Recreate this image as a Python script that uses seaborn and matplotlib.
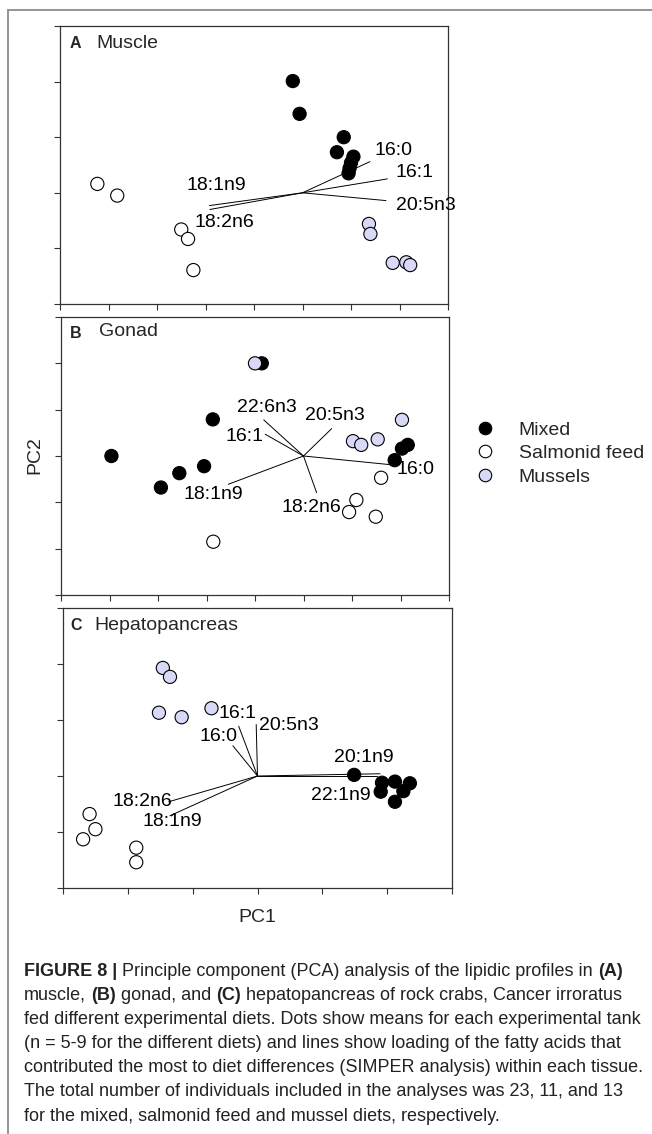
import numpy as np
import pandas as pd
import matplotlib
matplotlib.use("Agg")
import matplotlib.pyplot as plt
from matplotlib.lines import Line2D
import seaborn as sns

# ---------------- data ----------------
diets = ["Mixed", "Salmonid feed", "Mussels"]
diet_colors = ["#000000", "#ffffff", "#d8d8f7"]

# Panel A - Muscle
A_mixed_x = [-0.20, -0.06, 0.85, 0.71, 1.05, 1.00, 0.97, 0.95]
A_mixed_y = [2.01, 1.42, 1.00, 0.73, 0.65, 0.54, 0.44, 0.35]
A_salm_x = [-4.23, -3.82, -2.50, -2.36, -2.25]
A_salm_y = [0.16, -0.05, -0.66, -0.83, -1.39]
A_mus_x = [1.37, 1.40, 1.86, 2.14, 2.22]
A_mus_y = [-0.56, -0.74, -1.26, -1.25, -1.30]
A_fa = ["16:0", "16:1", "20:5n3", "18:1n9", "18:2n6"]
A_fa_dx = [1.39, 1.75, 1.72, -1.92, -1.91]
A_fa_dy = [0.56, 0.25, -0.14, -0.23, -0.30]
A_lab_x = [1.48, 1.92, 1.93, -2.40, -2.23]
A_lab_y = [0.76, 0.37, -0.22, 0.13, -0.54]

# Panel B - Gonad
B_mixed_x = [-0.86, -1.87, -3.96, -2.05, -2.56, -2.94, 2.15, 2.03, 1.88]
B_mixed_y = [2.00, 0.79, 0.00, -0.22, -0.37, -0.68, 0.24, 0.16, -0.09]
B_salm_x = [-1.86, 1.60, 1.09, 0.94, 1.49]
B_salm_y = [-1.85, -0.47, -0.95, -1.21, -1.31]
B_mus_x = [-1.00, 2.03, 1.02, 1.19, 1.53]
B_mus_y = [2.00, 0.78, 0.32, 0.24, 0.36]
B_fa = ["22:6n3", "16:1", "20:5n3", "16:0", "18:1n9", "18:2n6"]
B_fa_dx = [-0.82, -0.79, 0.58, 1.82, -1.55, 0.27]
B_fa_dy = [0.78, 0.47, 0.59, -0.19, -0.61, -0.79]
B_lab_x = [-1.37, -1.61, 0.03, 1.92, -2.47, -0.46]
B_lab_y = [1.04, 0.43, 0.88, -0.29, -0.83, -1.12]

# Panel C - Hepatopancreas
C_mixed_x = [1.49, 1.92, 2.12, 2.35, 1.90, 2.25, 2.12]
C_mixed_y = [0.02, -0.12, -0.10, -0.13, -0.28, -0.27, -0.46]
C_salm_x = [-2.59, -2.50, -2.69, -1.87, -1.87]
C_salm_y = [-0.68, -0.95, -1.13, -1.28, -1.54]
C_mus_x = [-1.46, -1.35, -1.52, -1.17, -0.71]
C_mus_y = [1.93, 1.77, 1.13, 1.05, 1.21]
C_fa = ["16:1", "20:5n3", "16:0", "20:1n9", "22:1n9", "18:2n6", "18:1n9"]
C_fa_dx = [-0.29, -0.02, -0.38, 1.89, 1.84, -1.37, -1.35]
C_fa_dy = [0.89, 0.92, 0.54, 0.04, 0.00, -0.46, -0.71]
C_lab_x = [-0.60, 0.02, -0.89, 1.18, 0.82, -2.24, -1.78]
C_lab_y = [1.11, 0.91, 0.70, 0.33, -0.34, -0.46, -0.82]

panel_letters = ["A", "B", "C"]
panel_names = ["Muscle", "Gonad", "Hepatopancreas"]

caption_lines = [
    [("FIGURE 8 |", True), ("Principle component (PCA) analysis of the lipidic profiles in", False), ("(A)", True)],
    [("muscle,", False), ("(B)", True), ("gonad, and", False), ("(C)", True), ("hepatopancreas of rock crabs, Cancer irroratus", False)],
    [("fed different experimental diets. Dots show means for each experimental tank", False)],
    [("(n = 5-9 for the different diets) and lines show loading of the fatty acids that", False)],
    [("contributed the most to diet differences (SIMPER analysis) within each tissue.", False)],
    [("The total number of individuals included in the analyses was 23, 11, and 13", False)],
    [("for the mixed, salmonid feed and mussel diets, respectively.", False)],
]

# ---------------- style ----------------
sns.set_theme(style="white")
plt.rcParams["font.family"] = ["Liberation Sans", "DejaVu Sans"]

W, H = 652, 1134
fig = plt.figure(figsize=(W / 100, H / 100), dpi=100)
fig.patch.set_facecolor("white")

def fx(px):
    return px / W

def fy(py):
    return 1 - py / H

# axes boxes in pixels: left, top, right, bottom
boxes = [(60, 26, 448, 304), (61, 317, 449, 595), (63, 608, 452, 888)]
limits = [((-5, 3), (-2, 3)), ((-5, 3), (-3, 3)), ((-3, 3), (-2, 3))]
title_pos = [((70, 43), (96, 43)), ((70, 333), (99, 332)), ((70, 625), (94, 625))]

panels = [
    (A_mixed_x, A_mixed_y, A_salm_x, A_salm_y, A_mus_x, A_mus_y, A_fa, A_fa_dx, A_fa_dy, A_lab_x, A_lab_y),
    (B_mixed_x, B_mixed_y, B_salm_x, B_salm_y, B_mus_x, B_mus_y, B_fa, B_fa_dx, B_fa_dy, B_lab_x, B_lab_y),
    (C_mixed_x, C_mixed_y, C_salm_x, C_salm_y, C_mus_x, C_mus_y, C_fa, C_fa_dx, C_fa_dy, C_lab_x, C_lab_y),
]

palette = dict(zip(diets, diet_colors))
label_fs = 14

for i, (p, box, lim) in enumerate(zip(panels, boxes, limits)):
    mx, my, sx, sy, ux, uy, fa, dx, dy, lx, ly = p
    l, t, r, b = box
    ax = fig.add_axes([fx(l), fy(b), (r - l) / W, (b - t) / H])
    df = pd.DataFrame({
        "PC1": list(mx) + list(sx) + list(ux),
        "PC2": list(my) + list(sy) + list(uy),
        "diet": [diets[0]] * len(mx) + [diets[1]] * len(sx) + [diets[2]] * len(ux),
    })
    # loading vectors
    for name, ddx, ddy, tx, ty in zip(fa, dx, dy, lx, ly):
        ax.plot([0, ddx], [0, ddy], color="black", lw=0.7, zorder=1)
        ax.text(tx, ty, name, ha="left", va="center", fontsize=label_fs, color="black", zorder=4)
    sns.scatterplot(data=df, x="PC1", y="PC2", hue="diet", palette=palette,
                    hue_order=diets, s=90, edgecolor="black", linewidth=0.8,
                    legend=False, ax=ax, zorder=3)
    ax.set_xlim(*lim[0])
    ax.set_ylim(*lim[1])
    ax.set_xticks(np.arange(lim[0][0], lim[0][1] + 1))
    ax.set_yticks(np.arange(lim[1][0], lim[1][1] + 1))
    ax.set_xticklabels([])
    ax.set_yticklabels([])
    ax.set_xlabel("")
    ax.set_ylabel("")
    ax.tick_params(axis="both", which="both", direction="out", length=4, width=0.8,
                   color="#333333", bottom=True, left=True, top=False, right=False)
    for sp in ax.spines.values():
        sp.set_color("#333333")
        sp.set_linewidth(0.9)
    (lx_, ly_), (nx_, ny_) = title_pos[i]
    fig.text(fx(lx_), fy(ly_), panel_letters[i], fontsize=11.5, fontweight="bold", ha="left", va="center")
    fig.text(fx(nx_), fy(ny_), panel_names[i], fontsize=label_fs, ha="left", va="center")

# axis labels
fig.text(fx(35), fy(455), "PC2", rotation=90, fontsize=label_fs, ha="center", va="center")
fig.text(fx(257), fy(918), "PC1", fontsize=label_fs, ha="center", va="center")

# legend
handles = [Line2D([0], [0], marker="o", linestyle="", markersize=9,
                  markerfacecolor=c, markeredgecolor="black", markeredgewidth=0.8)
           for c in diet_colors]
fig.legend(handles, diets, loc="upper left", bbox_to_anchor=(fx(475), fy(421)),
           frameon=False, fontsize=label_fs, handlelength=1.0, handletextpad=1.25,
           borderpad=0, borderaxespad=0, labelspacing=0.31)

# outer frame lines
fig.add_artist(Line2D([fx(8), fx(8)], [fy(10), 0], color="#8c8c8c", lw=1.3))
fig.add_artist(Line2D([fx(8), 1], [fy(10), fy(10)], color="#8c8c8c", lw=1.3))

# caption
cap_family = ["Liberation Sans", "DejaVu Sans"]
cap_fs = 13.0
renderer = fig.canvas.get_renderer()
probe1 = fig.text(0, 0, "a a", fontsize=cap_fs, family=cap_family)
probe2 = fig.text(0, 0, "aa", fontsize=cap_fs, family=cap_family)
space_w = (probe1.get_window_extent(renderer).width - probe2.get_window_extent(renderer).width)
probe1.remove()
probe2.remove()
for li, segs in enumerate(caption_lines):
    y = 971 + 24.2 * li
    x = 24
    for si, (txt, bold) in enumerate(segs):
        if si > 0:
            x += space_w
        t = fig.text(fx(x), fy(y), txt, fontsize=cap_fs, family=cap_family,
                     fontweight="bold" if bold else "normal", color="#222222",
                     ha="left", va="center")
        x += t.get_window_extent(renderer).width

fig.savefig("out.png", dpi=100)
